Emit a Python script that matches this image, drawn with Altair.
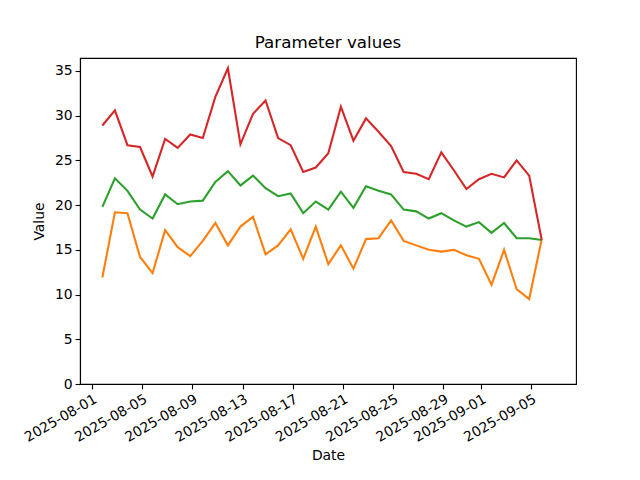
import altair as alt
import pandas as pd

dates = [f"2025-08-{d:02d}T20:00:00" for d in range(1, 32)] + \
        [f"2025-09-{d:02d}T20:00:00" for d in range(1, 6)]

orange_vals = [11.9, 19.2, 19.1, 14.2, 12.4, 17.2, 15.3, 14.3, 16.0, 18.0, 15.5, 17.6,
               18.7, 14.5, 15.5, 17.3, 14.0, 17.6, 13.4, 15.5, 12.9, 16.2, 16.3, 18.3,
               16.0, 15.5, 15.0, 14.8, 15.0, 14.4, 14.0, 11.1, 15.0, 10.6, 9.5, 16.2]
green_vals = [19.8, 23.0, 21.6, 19.5, 18.5, 21.2, 20.1, 20.4, 20.5, 22.6, 23.8, 22.2,
              23.3, 21.9, 21.0, 21.3, 19.1, 20.4, 19.5, 21.5, 19.7, 22.1, 21.6, 21.2,
              19.5, 19.3, 18.5, 19.1, 18.3, 17.6, 18.1, 16.9, 18.0, 16.3, 16.3, 16.1]
red_vals = [28.9, 30.6, 26.7, 26.5, 23.2, 27.4, 26.4, 27.9, 27.5, 32.1, 35.3, 26.8,
            30.2, 31.7, 27.5, 26.7, 23.7, 24.2, 25.8, 31.0, 27.2, 29.7, 28.2, 26.6,
            23.7, 23.5, 22.9, 25.9, 23.9, 21.8, 22.9, 23.5, 23.1, 25.0, 23.3, 16.1]

series_names = ["param_b", "param_c", "param_d"]
series_colors = ["#ff7f0e", "#2ca02c", "#d62728"]
tick_dates = ["2025-08-01", "2025-08-05", "2025-08-09", "2025-08-13", "2025-08-17",
              "2025-08-21", "2025-08-25", "2025-08-29", "2025-09-01", "2025-09-05"]

rows = []
for name, vals in zip(series_names, [orange_vals, green_vals, red_vals]):
    for d, v in zip(dates, vals):
        rows.append({"Date": d, "Value": v, "series": name})
df = pd.DataFrame(rows)

tick_values = [alt.DateTime(year=int(t[:4]), month=int(t[5:7]), date=int(t[8:10]))
               for t in tick_dates]

x_dom = [alt.DateTime(year=2025, month=7, date=31, hours=1, minutes=15),
         alt.DateTime(year=2025, month=9, date=8, hours=13, minutes=30)]

chart = alt.Chart(df).mark_line(strokeWidth=2.1, clip=True).encode(
    x=alt.X("Date:T", scale=alt.Scale(domain=x_dom, nice=False),
            axis=alt.Axis(values=tick_values, format="%Y-%m-%d", labelAngle=-30,
                          labelAlign="right", labelBaseline="top", title="Date",
                          grid=False, tickSize=4.9, labelPadding=3, titlePadding=4,
                          labelFlush=False, labelOverlap=False)),
    y=alt.Y("Value:Q", scale=alt.Scale(domain=[0, 36.45], nice=False, zero=True),
            axis=alt.Axis(values=[0, 5, 10, 15, 20, 25, 30, 35], title="Value",
                          grid=False, tickSize=4.9, labelPadding=3, titlePadding=8)),
    color=alt.Color("series:N", scale=alt.Scale(domain=series_names, range=series_colors),
                    legend=None),
    order=alt.Order("series:N"),
).properties(
    width=496, height=326,
    title=alt.TitleParams("Parameter values", fontSize=16.7, fontWeight="normal",
                          offset=6, font="DejaVu Sans"),
    autosize=alt.AutoSizeParams(type="none"),
    padding={"left": 72, "top": 50, "right": 56, "bottom": 96},
).configure(
    font="DejaVu Sans",
).configure_view(
    stroke="black", strokeWidth=1.1
).configure_axis(
    labelFont="DejaVu Sans", titleFont="DejaVu Sans",
    labelFontSize=13.9, titleFontSize=13.9, titleFontWeight="normal",
    labelColor="black", titleColor="black", domainColor="black", tickColor="black",
    domainWidth=1.1, tickWidth=1.1,
)

chart.save("out.html", embed_options={"renderer": "svg", "actions": False})
